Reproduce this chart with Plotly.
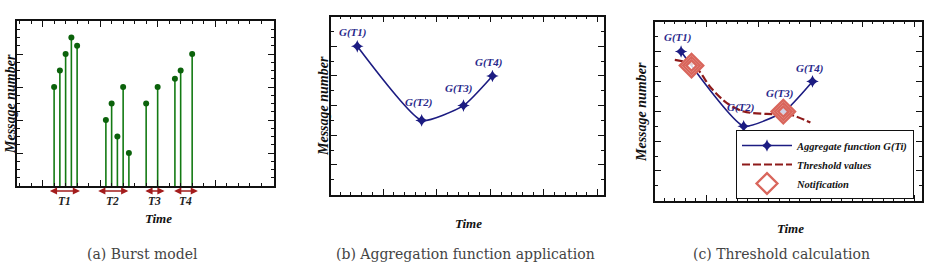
import plotly.graph_objects as go

# ---------------- data ----------------
# (a) Burst model
burst_x = [1, 1.5, 2, 2.5, 3, 5.5, 6, 6.5, 7, 7.5, 9, 10, 11.5, 12, 13]
burst_y = [12, 14, 16, 18, 17, 8, 10, 6, 12, 4, 10, 12, 13, 14, 16]
interval_labels = ["T1", "T2", "T3", "T4"]
interval_start = [0.5, 4.7, 8.8, 11.3]
interval_end = [3.25, 7.45, 10.6, 13.5]

# (b)/(c) Aggregation function
agg_x = [2.6, 8.6, 12.5, 15.2]
agg_y = [5, 2.5, 3, 4]
agg_labels = ["G(T1)", "G(T2)", "G(T3)", "G(T4)"]

# (c) Threshold values and notifications
thr_x = [2.0, 3.8, 5.5, 7.0, 8.6, 10.8, 13.1, 15.0]
thr_y = [4.72, 4.55, 3.77, 3.27, 2.99, 2.91, 2.88, 2.62]
notif_x = [3.6, 12.4]
notif_y = [4.53, 2.99]

captions = ["(a) Burst model", "(b) Aggregation function application", "(c) Threshold calculation"]

# ---------------- style ----------------
W, H = 940, 262
SERIF_BI = "Liberation Serif"
GREEN = "#137a13"
NAVY = "#1c1c82"
DARKRED = "#8e1a1a"
ARROWRED = "#a31c1c"
SALMON = "#d9665c"

fig = go.Figure()

# stems (a)
sx, sy = [], []
for xv, yv in zip(burst_x, burst_y):
    sx += [xv, xv, None]
    sy += [0, yv, None]
fig.add_trace(go.Scatter(x=sx, y=sy, mode="lines", line=dict(color=GREEN, width=1.6),
                         xaxis="x", yaxis="y", showlegend=False, hoverinfo="skip"))
fig.add_trace(go.Scatter(x=burst_x, y=burst_y, mode="markers",
                         marker=dict(color="#0b620b", size=6), xaxis="x", yaxis="y",
                         showlegend=False))

# (b) aggregate
fig.add_trace(go.Scatter(x=agg_x, y=agg_y, mode="lines+markers",
                         line=dict(color=NAVY, width=1.6, shape="spline", smoothing=0.5),
                         marker=dict(symbol="star-diamond", size=9, color=NAVY),
                         xaxis="x2", yaxis="y2", showlegend=False))

# (c)
fig.add_trace(go.Scatter(x=agg_x, y=agg_y, mode="lines+markers", name="Aggregate function G(Ti)",
                         line=dict(color=NAVY, width=1.6, shape="spline", smoothing=0.5),
                         marker=dict(symbol="star-diamond", size=9, color=NAVY),
                         xaxis="x3", yaxis="y3"))
fig.add_trace(go.Scatter(x=thr_x, y=thr_y, mode="lines", name="Threshold values",
                         line=dict(color=DARKRED, width=2.2, dash="8px,3px", shape="spline", smoothing=0.8),
                         xaxis="x3", yaxis="y3"))
fig.add_trace(go.Scatter(x=notif_x, y=notif_y, mode="markers", name="Notification",
                         marker=dict(symbol="diamond", size=18, color="rgba(255,255,255,0.8)",
                                     line=dict(color=SALMON, width=2.4)),
                         xaxis="x3", yaxis="y3"))
for s in [13, 8]:
    fig.add_trace(go.Scatter(x=notif_x, y=notif_y, mode="markers", showlegend=False,
                             marker=dict(symbol="diamond-open", size=s, color=SALMON,
                                         line=dict(color=SALMON, width=2.4)),
                             xaxis="x3", yaxis="y3", hoverinfo="skip"))

# ---------------- axes ----------------
def axis(domain, rng, dtick, minor, anchor):
    return dict(domain=domain, range=rng, anchor=anchor, tick0=0, dtick=dtick,
                showticklabels=False, ticks="inside", ticklen=6, tickwidth=1.2, tickcolor="#111",
                minor=dict(dtick=minor, ticks="inside", ticklen=3, tickwidth=1.1, tickcolor="#111"),
                showline=True, linecolor="#111", linewidth=1.5, mirror="ticks",
                showgrid=False, zeroline=False, fixedrange=True)

dom_a_x = [17.3 / W, 273.5 / W]
dom_a_y = [1 - 186 / H, 1 - 21 / H]
dom_b_x = [331 / W, 604 / W]
dom_b_y = [1 - 194.5 / H, 1 - 16.7 / H]
dom_c_x = [655 / W, 922 / W]
dom_c_y = [1 - 200.8 / H, 1 - 21.7 / H]

layout = dict(
    width=W, height=H, margin=dict(l=0, r=0, t=0, b=0),
    paper_bgcolor="white", plot_bgcolor="white",
    xaxis=axis(dom_a_x, [-2.2, 20.07], 5, 1, "y"),
    yaxis=axis(dom_a_y, [0, 20], 4, 1, "x"),
    xaxis2=axis(dom_b_x, [0.15, 25.6], 5, 1, "y2"),
    yaxis2=axis(dom_b_y, [0, 6], 1, 0.5, "x2"),
    xaxis3=axis(dom_c_x, [0.1, 25.7], 5, 1, "y3"),
    yaxis3=axis(dom_c_y, [0, 6], 1, 0.5, "x3"),
    legend=dict(x=736 / W, y=1 - 130 / H, xanchor="left", yanchor="top",
                bordercolor="#111", borderwidth=1, bgcolor="white",
                font=dict(family=SERIF_BI, size=10.5, color="#111", weight="bold", style="italic"),
                itemwidth=50, tracegroupgap=0),
)
fig.update_layout(**layout)

ann = []
bi = dict(family=SERIF_BI, size=13, color="#111", weight="bold", style="italic")

# interval arrows and labels (a)
arrow_y = 1 - 191 / H
for lab, a0, a1 in zip(interval_labels, interval_start, interval_end):
    ann.append(dict(x=a1, y=arrow_y, xref="x", yref="paper", ax=a0, ay=0, axref="x", ayref="pixel",
                    showarrow=True, arrowhead=2, arrowside="end+start", arrowsize=0.9,
                    arrowwidth=1.6, arrowcolor=ARROWRED, text=""))
    ann.append(dict(x=(a0 + a1) / 2, y=1 - 201 / H, xref="x", yref="paper", showarrow=False,
                    xanchor="center", yanchor="middle",
                    text=lab, font=dict(family=SERIF_BI, size=11.5, color="#222", weight="bold", style="italic")))

# G labels (b) and (c)
for xr, yr, offs in [("x2", "y2", [(-4, 14), (-3, 18), (-4, 17), (-3, 13)]),
                     ("x3", "y3", [(-3, 14), (-3, 19), (-4, 18), (-2, 13)])]:
    for lab, xv, yv, (dx, dy) in zip(agg_labels, agg_x, agg_y, offs):
        ann.append(dict(x=xv, y=yv, xref=xr, yref=yr, showarrow=False, text=lab,
                        xshift=dx, yshift=dy, xanchor="center", yanchor="middle",
                        font=dict(family=SERIF_BI, size=11, color="#2a2a8c", weight="bold", style="italic")))

# axis titles
for xc, yc in [(10, 104), (323, 106), (641, 112)]:
    ann.append(dict(x=xc / W, y=1 - yc / H, xref="paper", yref="paper", showarrow=False,
                    xanchor="center", yanchor="middle",
                    text="Message number", textangle=-90,
                    font=dict(family=SERIF_BI, size=14, color="#111", weight="bold", style="italic")))
for xc, yc in [(158, 218), (468, 223), (790, 228)]:
    ann.append(dict(x=xc / W, y=1 - yc / H, xref="paper", yref="paper", showarrow=False,
                    xanchor="center", yanchor="middle", text="Time", font=bi))
# captions
for cap, xc in zip(captions, [142, 465, 781]):
    ann.append(dict(x=xc / W, y=1 - 254 / H, xref="paper", yref="paper", showarrow=False,
                    xanchor="center", yanchor="middle",
                    text=cap, font=dict(family="DejaVu Serif", size=14, color="#444")))

fig.update_layout(annotations=ann)
fig.write_html("out.html")
